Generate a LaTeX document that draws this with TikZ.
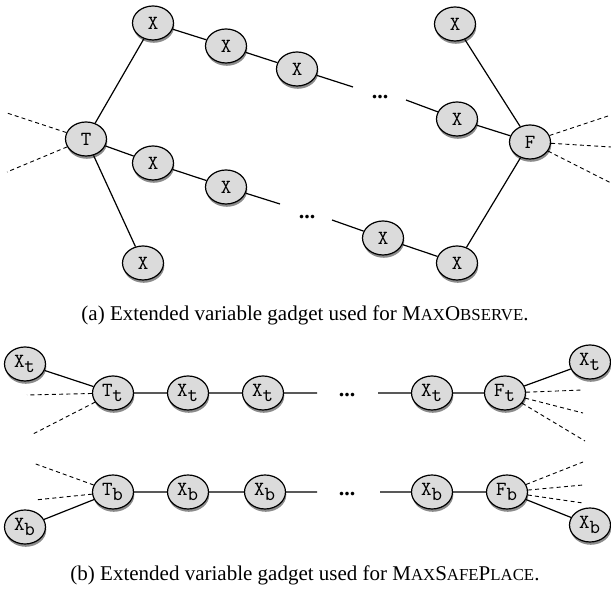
\documentclass[tikz,border=0pt]{standalone}
\usepackage{fontspec}
\setmainfont{Liberation Serif}
\usetikzlibrary{shapes.geometric,shadows}

\newcommand{\lowcaps}[1]{{\fontsize{8.4}{10}\selectfont #1}}

\tikzset{
  gnode/.style={ellipse,draw=black,line width=0.6pt,fill=gray!28,minimum width=20.5pt,minimum height=17pt,inner sep=0pt,
    font=\ttfamily\fontsize{10}{10}\selectfont,
    drop shadow={shadow xshift=0.4pt,shadow yshift=-1.4pt,opacity=0.6,fill=black!75}},
  link/.style={line width=0.6pt},
  loose/.style={line width=0.45pt,dash pattern=on 2pt off 1.6pt},
  gap/.style={font=\bfseries\fontsize{11}{11}\selectfont,inner sep=0pt},
  caption/.style={font=\fontsize{10.5}{12}\selectfont}
}

\begin{document}
\begin{tikzpicture}[x=0.5pt,y=-0.5pt]
\useasboundingbox (0,0) rectangle (611,598);

% (a) MaxObserve gadget
\node[gnode] (t) at (86,139) {T};
\node[gnode] (a1) at (153,23) {X};
\node[gnode] (a2) at (226,46) {X};
\node[gnode] (a3) at (297,69) {X};
\node[gnode] (a4) at (457,119) {X};
\node[gnode] (b1) at (153,163) {X};
\node[gnode] (b2) at (226,187) {X};
\node[gnode] (b3) at (383,238) {X};
\node[gnode] (b4) at (457,263) {X};
\node[gnode] (c) at (143,263) {X};
\node[gnode] (d) at (455,24) {X};
\node[gnode] (f) at (530,142) {F};
\node[gap] (adots) at (380,97) {...};
\node[gap] (bdots) at (307,217) {...};
\coordinate (a3e) at (353,87);
\coordinate (a4s) at (406,100);
\coordinate (b2e) at (280,204);
\coordinate (b3s) at (332,220);
\coordinate (tl1) at (7,113);
\coordinate (tl2) at (7,172);
\coordinate (fr1) at (611,115);
\coordinate (fr2) at (611,147);
\coordinate (fr3) at (611,183);

\draw[link] (t) -- (a1) -- (a2) -- (a3) -- (a3e);
\draw[link] (a4s) -- (a4) -- (f);
\draw[link] (t) -- (b1) -- (b2) -- (b2e);
\draw[link] (b3s) -- (b3) -- (b4) -- (f);
\draw[link] (t) -- (c);
\draw[link] (d) -- (f);
\draw[loose] (t) -- (tl1);
\draw[loose] (t) -- (tl2);
\draw[loose] (f) -- (fr1);
\draw[loose] (f) -- (fr2);
\draw[loose] (f) -- (fr3);

\node[caption] (capa) at (305,315) {(a) Extended variable gadget used for M\lowcaps{AX}O\lowcaps{BSERVE}.};

% (b) MaxSafePlace gadget
\node[gnode] (xtl) at (25,364) {X$_\texttt{t}$};
\node[gnode] (tt) at (113,393) {T$_\texttt{t}$};
\node[gnode] (t1) at (188,393) {X$_\texttt{t}$};
\node[gnode] (t2) at (263,393) {X$_\texttt{t}$};
\node[gnode] (t3) at (432,393) {X$_\texttt{t}$};
\node[gnode] (ft) at (505,393) {F$_\texttt{t}$};
\node[gnode] (xtr) at (590,362) {X$_\texttt{t}$};
\node[gap] (tdots) at (347,395) {...};
\coordinate (t2e) at (317,393);
\coordinate (t3s) at (378,393);

\node[gnode] (xbl) at (25,527) {X$_\texttt{b}$};
\node[gnode] (tb) at (113,492) {T$_\texttt{b}$};
\node[gnode] (u1) at (188,492) {X$_\texttt{b}$};
\node[gnode] (u2) at (265,492) {X$_\texttt{b}$};
\node[gnode] (u3) at (432,492) {X$_\texttt{b}$};
\node[gnode] (fb) at (507,492) {F$_\texttt{b}$};
\node[gnode] (xbr) at (590,525) {X$_\texttt{b}$};
\node[gap] (udots) at (347,494) {...};
\coordinate (u2e) at (317,492);
\coordinate (u3s) at (380,492);

\coordinate (ttl1) at (27,395);
\coordinate (ttl2) at (33,434);
\coordinate (ftr1) at (583,390);
\coordinate (ftr2) at (583,413);
\coordinate (ftr3) at (585,441);
\coordinate (tbl1) at (33,463);
\coordinate (tbl2) at (35,500);
\coordinate (fbr1) at (583,462);
\coordinate (fbr2) at (583,485);
\coordinate (fbr3) at (583,503);

\draw[link] (xtl) -- (tt) -- (t1) -- (t2) -- (t2e);
\draw[link] (t3s) -- (t3) -- (ft) -- (xtr);
\draw[link] (xbl) -- (tb) -- (u1) -- (u2) -- (u2e);
\draw[link] (u3s) -- (u3) -- (fb) -- (xbr);
\draw[loose] (tt) -- (ttl1);
\draw[loose] (tt) -- (ttl2);
\draw[loose] (ft) -- (ftr1);
\draw[loose] (ft) -- (ftr2);
\draw[loose] (ft) -- (ftr3);
\draw[loose] (tb) -- (tbl1);
\draw[loose] (tb) -- (tbl2);
\draw[loose] (fb) -- (fbr1);
\draw[loose] (fb) -- (fbr2);
\draw[loose] (fb) -- (fbr3);

\node[caption] (capb) at (305,575) {(b) Extended variable gadget used for M\lowcaps{AX}S\lowcaps{AFE}P\lowcaps{LACE}.};

\end{tikzpicture}
\end{document}
